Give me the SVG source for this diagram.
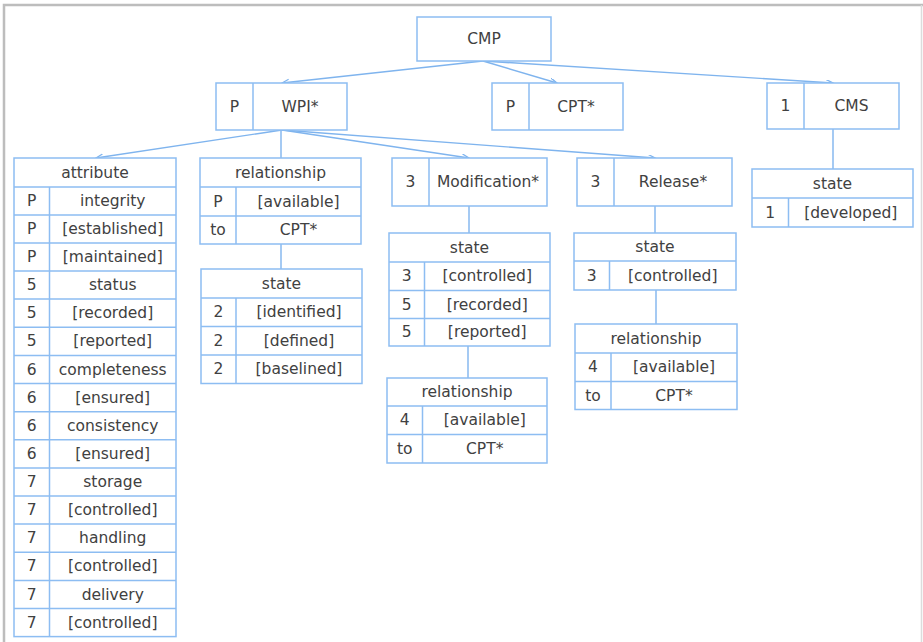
<svg xmlns="http://www.w3.org/2000/svg" width="923" height="642" viewBox="0 0 923 642">
<defs>
<style>
.bx{fill:#fff;stroke:#8dbdf2;stroke-width:1.5}
.ln{fill:none;stroke:#8dbdf2;stroke-width:1.5}
.cn{fill:none;stroke:#7fb4ee;stroke-width:1.4}
.t{font-family:"DejaVu Sans",Verdana,sans-serif;font-size:15.5px;fill:#414141;text-anchor:middle;dominant-baseline:central}
.frame{fill:none;stroke:#bdbdbd;stroke-width:2.5}
</style>
<marker id="ah" markerUnits="userSpaceOnUse" markerWidth="9" markerHeight="8" refX="7" refY="3" orient="auto">
<path d="M0,0 L7,3 L0,6" fill="none" stroke="#7fb4ee" stroke-width="1.3"/>
</marker>
</defs>
<rect width="923" height="642" fill="#fff"/>
<path class="frame" d="M4,642 V5 H923"/>
<path d="M921.5,5 V642" stroke="#dcdcdc" stroke-width="1.5" fill="none"/>

<g id="connectors">
<path class="cn" d="M483,61 L282,83" marker-end="url(#ah)"/>
<path class="cn" d="M483,61 L557,83" marker-end="url(#ah)"/>
<path class="cn" d="M483,61 L833,83" marker-end="url(#ah)"/>
<path class="cn" d="M282,130 L96,158" marker-end="url(#ah)"/>
<path class="cn" d="M281,130 L281,158"/>
<path class="cn" d="M282,130 L469,158" marker-end="url(#ah)"/>
<path class="cn" d="M282,130 L655,158" marker-end="url(#ah)"/>
<path class="cn" d="M281,244 L281,269"/>
<path class="cn" d="M469,206 L469,233"/>
<path class="cn" d="M468,346 L468,378"/>
<path class="cn" d="M655,206 L655,233"/>
<path class="cn" d="M656,290 L656,324"/>
<path class="cn" d="M833,129 L833,169"/>
</g>

<g id="cmp">
<rect class="bx" x="417" y="17" width="134" height="44"/>
<text class="t" x="484" y="39">CMP</text>
</g>

<g id="wpi">
<rect class="bx" x="216" y="83" width="131" height="47"/>
<path class="ln" d="M253,83 V130"/>
<text class="t" x="234.5" y="106.5">P</text>
<text class="t" x="300" y="106.5">WPI*</text>
</g>

<g id="cpt">
<rect class="bx" x="492" y="83" width="131" height="47"/>
<path class="ln" d="M529,83 V130"/>
<text class="t" x="510.5" y="106.5">P</text>
<text class="t" x="576" y="106.5">CPT*</text>
</g>

<g id="cms">
<rect class="bx" x="767" y="83" width="132" height="46"/>
<path class="ln" d="M804,83 V129"/>
<text class="t" x="785.5" y="106">1</text>
<text class="t" x="851.5" y="106">CMS</text>
</g>

<g id="modification">
<rect class="bx" x="392" y="158" width="155" height="48"/>
<path class="ln" d="M429,158 V206"/>
<text class="t" x="410.5" y="182">3</text>
<text class="t" x="488" y="182">Modification*</text>
</g>

<g id="release">
<rect class="bx" x="577" y="158" width="155" height="48"/>
<path class="ln" d="M614,158 V206"/>
<text class="t" x="595.5" y="182">3</text>
<text class="t" x="673" y="182">Release*</text>
</g>

<g id="attribute">
<rect class="bx" x="14" y="158" width="162" height="478.6"/>
<path class="ln" d="M14,187 H176 M14,215 H176 M14,243 H176 M14,271 H176 M14,299 H176 M14,327.3 H176 M14,355.4 H176 M14,383.5 H176 M14,411.7 H176 M14,439.8 H176 M14,468 H176 M14,496 H176 M14,524 H176 M14,552.3 H176 M14,580.4 H176 M14,608.5 H176 M49.5,187 V636.6"/>
<text class="t" x="95" y="172.5">attribute</text>
<text class="t" x="31.75" y="201">P</text><text class="t" x="112.75" y="201">integrity</text>
<text class="t" x="31.75" y="229">P</text><text class="t" x="112.75" y="229">[established]</text>
<text class="t" x="31.75" y="257">P</text><text class="t" x="112.75" y="257">[maintained]</text>
<text class="t" x="31.75" y="285">5</text><text class="t" x="112.75" y="285">status</text>
<text class="t" x="31.75" y="313.2">5</text><text class="t" x="112.75" y="313.2">[recorded]</text>
<text class="t" x="31.75" y="341.4">5</text><text class="t" x="112.75" y="341.4">[reported]</text>
<text class="t" x="31.75" y="369.5">6</text><text class="t" x="112.75" y="369.5">completeness</text>
<text class="t" x="31.75" y="397.6">6</text><text class="t" x="112.75" y="397.6">[ensured]</text>
<text class="t" x="31.75" y="425.8">6</text><text class="t" x="112.75" y="425.8">consistency</text>
<text class="t" x="31.75" y="453.9">6</text><text class="t" x="112.75" y="453.9">[ensured]</text>
<text class="t" x="31.75" y="482">7</text><text class="t" x="112.75" y="482">storage</text>
<text class="t" x="31.75" y="510">7</text><text class="t" x="112.75" y="510">[controlled]</text>
<text class="t" x="31.75" y="538.2">7</text><text class="t" x="112.75" y="538.2">handling</text>
<text class="t" x="31.75" y="566.4">7</text><text class="t" x="112.75" y="566.4">[controlled]</text>
<text class="t" x="31.75" y="594.5">7</text><text class="t" x="112.75" y="594.5">delivery</text>
<text class="t" x="31.75" y="622.6">7</text><text class="t" x="112.75" y="622.6">[controlled]</text>
</g>

<g id="wpi-relationship">
<rect class="bx" x="200" y="158" width="161" height="86"/>
<path class="ln" d="M200,187 H361 M200,216 H361 M236,187 V244"/>
<text class="t" x="280.5" y="172.5">relationship</text>
<text class="t" x="218" y="201.5">P</text><text class="t" x="298.5" y="201.5">[available]</text>
<text class="t" x="218" y="230">to</text><text class="t" x="298.5" y="230">CPT*</text>
</g>

<g id="wpi-state">
<rect class="bx" x="201" y="269" width="161" height="114.5"/>
<path class="ln" d="M201,298 H362 M201,326.5 H362 M201,355 H362 M236,298 V383.5"/>
<text class="t" x="281.5" y="283.5">state</text>
<text class="t" x="218.5" y="312">2</text><text class="t" x="299" y="312">[identified]</text>
<text class="t" x="218.5" y="340.5">2</text><text class="t" x="299" y="340.5">[defined]</text>
<text class="t" x="218.5" y="369">2</text><text class="t" x="299" y="369">[baselined]</text>
</g>

<g id="mod-state">
<rect class="bx" x="389" y="233" width="161" height="113"/>
<path class="ln" d="M389,262 H550 M389,290.5 H550 M389,318.5 H550 M424.5,262 V346"/>
<text class="t" x="469.5" y="247.5">state</text>
<text class="t" x="406.75" y="276">3</text><text class="t" x="487.25" y="276">[controlled]</text>
<text class="t" x="406.75" y="304.5">5</text><text class="t" x="487.25" y="304.5">[recorded]</text>
<text class="t" x="406.75" y="332">5</text><text class="t" x="487.25" y="332">[reported]</text>
</g>

<g id="mod-relationship">
<rect class="bx" x="387" y="378" width="160" height="85"/>
<path class="ln" d="M387,406 H547 M387,434.5 H547 M422.5,406 V463"/>
<text class="t" x="467" y="392">relationship</text>
<text class="t" x="404.75" y="420">4</text><text class="t" x="484.75" y="420">[available]</text>
<text class="t" x="404.75" y="448.5">to</text><text class="t" x="484.75" y="448.5">CPT*</text>
</g>

<g id="rel-state">
<rect class="bx" x="574" y="233" width="162" height="57"/>
<path class="ln" d="M574,261 H736 M609.5,261 V290"/>
<text class="t" x="655" y="247">state</text>
<text class="t" x="591.75" y="275.5">3</text><text class="t" x="672.75" y="275.5">[controlled]</text>
</g>

<g id="rel-relationship">
<rect class="bx" x="575" y="324" width="162" height="85.5"/>
<path class="ln" d="M575,353 H737 M575,381.5 H737 M611,353 V409.5"/>
<text class="t" x="656" y="338.5">relationship</text>
<text class="t" x="593" y="367">4</text><text class="t" x="674" y="367">[available]</text>
<text class="t" x="593" y="395.5">to</text><text class="t" x="674" y="395.5">CPT*</text>
</g>

<g id="cms-state">
<rect class="bx" x="752" y="169" width="161" height="58"/>
<path class="ln" d="M752,198 H913 M788.5,198 V227"/>
<text class="t" x="832.5" y="183.5">state</text>
<text class="t" x="770.25" y="212.5">1</text><text class="t" x="850.75" y="212.5">[developed]</text>
</g>
</svg>
